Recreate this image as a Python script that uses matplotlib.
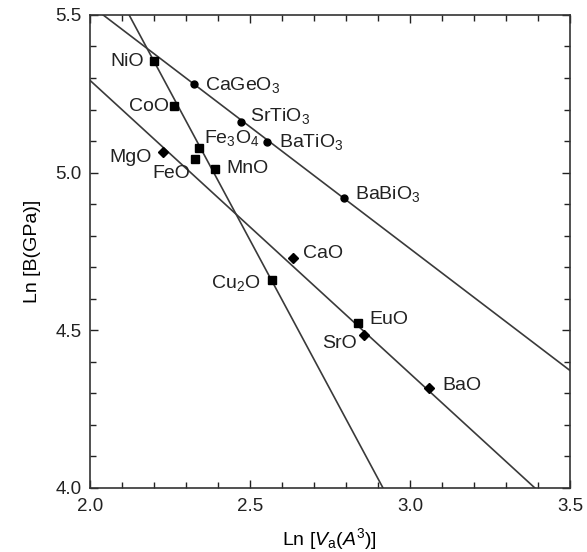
import matplotlib
matplotlib.use('Agg')
import matplotlib.pyplot as plt
import numpy as np

###########################################
####   DATA   #############################
###########################################

# compounds: Ln V_a (x) and Ln B (y)
names = ['NiO', 'CaGeO$_3$', 'CoO', 'SrTiO$_3$', 'BaTiO$_3$', 'Fe$_3$O$_4$',
         'MgO', 'FeO', 'MnO', 'BaBiO$_3$', 'CaO', 'Cu$_2$O', 'EuO', 'SrO', 'BaO']
ln_va = [2.20, 2.325, 2.262, 2.472, 2.553, 2.34,
         2.228, 2.328, 2.39, 2.794, 2.634, 2.569, 2.837, 2.856, 3.06]
ln_b = [5.354, 5.281, 5.211, 5.160, 5.096, 5.077,
        5.064, 5.042, 5.01, 4.918, 4.728, 4.658, 4.524, 4.486, 4.318]

# fitted lines: perovskites, rock salt, transition metal oxides
fit_slopes = [-0.773, -0.93, -1.891]
fit_intercepts = [7.078, 7.153, 9.514]

###########################################
####   STYLE   ############################
###########################################

plt.rcParams['font.family'] = ['Liberation Sans', 'DejaVu Sans']
plt.rcParams['mathtext.fontset'] = 'custom'
plt.rcParams['mathtext.rm'] = 'Liberation Sans'
plt.rcParams['mathtext.it'] = 'Liberation Sans:italic'

markers = {'NiO': 's', 'CoO': 's', 'Fe$_3$O$_4$': 's', 'FeO': 's', 'MnO': 's',
           'Cu$_2$O': 's', 'EuO': 's', 'MgO': 'D', 'CaO': 'D', 'SrO': 'D',
           'BaO': 'D', 'CaGeO$_3$': 'o', 'SrTiO$_3$': 'o', 'BaTiO$_3$': 'o',
           'BaBiO$_3$': 'o'}

# label offsets in pixels (dx, dy, horizontal alignment)
offsets = {'NiO': (-10, -1, 'right'), 'CaGeO$_3$': (11, -1, 'left'),
           'CoO': (-5, 0, 'right'), 'SrTiO$_3$': (9, 6, 'left'),
           'BaTiO$_3$': (12, 0, 'left'), 'Fe$_3$O$_4$': (5, 10, 'left'),
           'MgO': (-11, -5, 'right'), 'FeO': (-5, -14, 'right'),
           'MnO': (12, 1, 'left'), 'BaBiO$_3$': (11, 4, 'left'),
           'CaO': (10, 5, 'left'), 'Cu$_2$O': (-12, -3, 'right'),
           'EuO': (12, 3, 'left'), 'SrO': (-7, -9, 'right'),
           'BaO': (13, 2, 'left')}

###########################################
####   GRAPH   ############################
###########################################

fig = plt.figure(figsize=(5.87, 5.52), dpi=100)
ax = fig.add_axes([0.153, 0.116, 0.818, 0.857])

xs = np.array([2.0, 3.5])
for m, c in zip(fit_slopes, fit_intercepts):
    ax.plot(xs, m*xs + c, '-', color='#3a3a3a', lw=1.2)

for n, x, y in zip(names, ln_va, ln_b):
    mk = markers[n]
    ms = 5.5 if mk == 's' else 5
    ax.plot(x, y, mk, color='black', ms=ms, zorder=3)
    dx, dy, ha = offsets[n]
    ax.annotate(n, (x, y), xytext=(dx, dy), textcoords='offset pixels',
                ha=ha, va='center', fontsize=14, color='#222222')

ax.set_xlim(2.0, 3.5)
ax.set_ylim(4.0, 5.5)
ax.set_xticks([2.0, 2.5, 3.0, 3.5])
ax.set_yticks([4.0, 4.5, 5.0, 5.5])
ax.set_xticks(np.arange(2.0, 3.5, 0.1), minor=True)
ax.set_yticks(np.arange(4.0, 5.5, 0.1), minor=True)
ax.tick_params(which='both', direction='in', top=True, right=True,
               labelsize=13.5, colors='#222222')
ax.tick_params(which='major', length=6, width=1)
ax.tick_params(which='minor', length=4, width=1)
ax.tick_params(axis='x', which='major', pad=7)
ax.tick_params(axis='y', which='major', pad=6)
for s in ax.spines.values():
    s.set_linewidth(1.2)
    s.set_color('#333333')

ax.set_xlabel(r'Ln [$V_{\mathrm{a}}(A^3)$]', fontsize=14, labelpad=8)
ax.set_ylabel('Ln [B(GPa)]', fontsize=14, labelpad=10)

fig.savefig('out.png', dpi=100)
